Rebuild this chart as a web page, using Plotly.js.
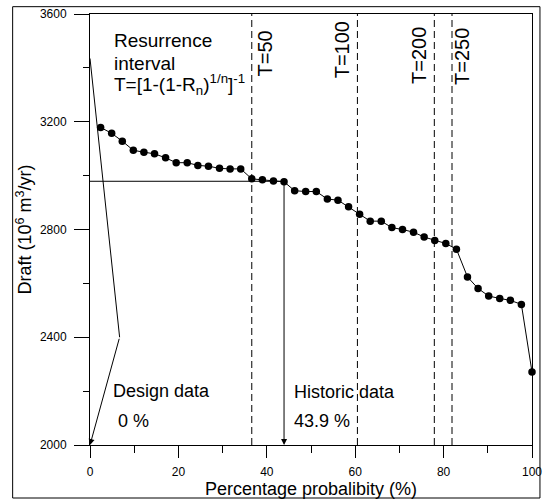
<!DOCTYPE html>
<html>
<head>
<meta charset="utf-8">
<script src="https://cdn.plot.ly/plotly-3.0.1.min.js"></script>
<style>html,body{margin:0;padding:0;background:#fff;}</style>
</head>
<body>
<div id="chart" style="width:545px;height:499px;"></div>
<script>
// Percentage probability (%) of each ranked draft value
const probability = [2.4, 4.9, 7.3, 9.8, 12.2, 14.6, 17.1, 19.5, 22.0, 24.4, 26.8, 29.3, 31.7, 34.1,
  36.6, 39.0, 41.5, 43.9, 46.3, 48.8, 51.2, 53.7, 56.1, 58.5, 61.0, 63.4, 65.9, 68.3, 70.7, 73.2,
  75.6, 78.0, 80.5, 82.9, 85.4, 87.8, 90.2, 92.7, 95.1, 97.6, 100];
// Draft (10^6 m3/yr)
const draft = [3179, 3157, 3128, 3094, 3087, 3081, 3066, 3048, 3048, 3038, 3035, 3027, 3025, 3025,
  2988, 2985, 2980, 2977, 2944, 2941, 2941, 2913, 2909, 2884, 2857, 2831, 2831, 2807, 2800, 2790,
  2772, 2759, 2748, 2727, 2624, 2581, 2553, 2544, 2537, 2522, 2271];
// Return-period lines
const periodLabels = ['T=50', 'T=100', 'T=200', 'T=250'];
const periodX = [36.6, 60.5, 77.9, 81.9];
// Design data path (x = %, y = draft)
const designX = [0, 6.7, 0];
const designY = [3435, 2400, 2000];
// Historic data
const historicDraft = 2979;
const historicProb = 43.9;
const designProb = 0;

const yMin = 2000, yMax = 3600;
const xTicks = [0, 20, 40, 60, 80, 100];
const yTicks = [2000, 2400, 2800, 3200, 3600];

const FONT = 'Liberation Sans, Arial, Helvetica, sans-serif';

const traces = [];
// dashed return-period lines
periodX.forEach(function (px) {
  traces.push({
    x: [px, px], y: [yMin, yMax], mode: 'lines', type: 'scatter',
    line: {color: '#000', width: 1, dash: '7px,4px'}, hoverinfo: 'skip', showlegend: false
  });
});
// historic horizontal line
traces.push({
  x: [0, historicProb], y: [historicDraft, historicDraft], mode: 'lines', type: 'scatter',
  line: {color: '#000', width: 1}, showlegend: false
});
// design first segment
traces.push({
  x: designX.slice(0, 2), y: designY.slice(0, 2), mode: 'lines', type: 'scatter',
  line: {color: '#000', width: 1}, showlegend: false
});
// main data
traces.push({
  x: probability, y: draft, mode: 'lines+markers', type: 'scatter',
  line: {color: '#000', width: 1}, marker: {color: '#000', size: 7.5},
  cliponaxis: false, showlegend: false
});

function tx(px) { return (px - 90) / 4.42; }
function ty(py) { return 2000 + (445 - py) / 0.26937; }

const annFont = {family: FONT, size: 18, color: '#000'};
const bigFont = {family: FONT, size: 19, color: '#000'};
const annotations = [
  {x: tx(112), y: ty(41), xref: 'x', yref: 'y', text: 'Resurrence', showarrow: false,
   xanchor: 'left', yanchor: 'middle', font: bigFont},
  {x: tx(112), y: ty(64), xref: 'x', yref: 'y', text: 'interval', showarrow: false,
   xanchor: 'left', yanchor: 'middle', font: bigFont},
  {x: tx(112), y: ty(85), xref: 'x', yref: 'y',
   text: 'T=[1-(1-R<sub>n</sub>)<sup>1/n</sup>]<sup>-1</sup>', showarrow: false,
   xanchor: 'left', yanchor: 'middle', font: bigFont},
  {x: tx(111), y: ty(391), xref: 'x', yref: 'y', text: 'Design data', showarrow: false,
   xanchor: 'left', yanchor: 'middle', font: annFont},
  {x: tx(116), y: ty(421), xref: 'x', yref: 'y', text: designProb + ' %', showarrow: false,
   xanchor: 'left', yanchor: 'middle', font: annFont},
  {x: tx(292), y: ty(392), xref: 'x', yref: 'y', text: 'Historic data', showarrow: false,
   xanchor: 'left', yanchor: 'middle', font: annFont},
  {x: tx(292), y: ty(421), xref: 'x', yref: 'y', text: historicProb + ' %', showarrow: false,
   xanchor: 'left', yanchor: 'middle', font: annFont},
  // arrows
  {x: designX[2], y: designY[2], ax: designX[1], ay: designY[1], xref: 'x', yref: 'y',
   axref: 'x', ayref: 'y', text: '', showarrow: true, arrowhead: 2, arrowsize: 1.2,
   arrowwidth: 1, arrowcolor: '#000'},
  {x: historicProb, y: yMin, ax: historicProb, ay: historicDraft, xref: 'x', yref: 'y',
   axref: 'x', ayref: 'y', text: '', showarrow: true, arrowhead: 2, arrowsize: 1.2,
   arrowwidth: 1, arrowcolor: '#000'}
];
const periodLabelPos = [[264.5, 54], [342.3, 50], [419, 56], [462, 57]];
periodLabels.forEach(function (lab, i) {
  annotations.push({
    x: tx(periodLabelPos[i][0]), y: ty(periodLabelPos[i][1]), xref: 'x', yref: 'y',
    text: lab, textangle: -90, showarrow: false, xanchor: 'center', yanchor: 'middle',
    font: {family: FONT, size: 20, color: '#000'}
  });
});

const layout = {
  width: 545, height: 499,
  margin: {l: 90, r: 13, t: 14, b: 54, pad: 0},
  paper_bgcolor: '#fff', plot_bgcolor: '#fff',
  font: {family: FONT, color: '#000', size: 12},
  showlegend: false,
  xaxis: {
    range: [0, 100], tickvals: xTicks, ticktext: xTicks.map(String),
    ticks: 'outside', ticklen: 12, tickwidth: 1, tickcolor: '#000',
    showline: true, linecolor: '#000', linewidth: 1, mirror: true,
    showgrid: false, zeroline: false, automargin: false,
    tickfont: {family: FONT, size: 12, color: '#000'}, ticklabelstandoff: 4,
    minor: {dtick: 10, tick0: 0, ticks: 'outside', ticklen: 7, tickwidth: 1, tickcolor: '#000', showgrid: false},
    title: {text: 'Percentage probalibity (%)', font: {family: FONT, size: 18, color: '#000'}, standoff: 3}
  },
  yaxis: {
    range: [yMin, yMax], tickvals: yTicks, ticktext: yTicks.map(String),
    ticks: 'outside', ticklen: 15, tickwidth: 1, tickcolor: '#000',
    showline: true, linecolor: '#000', linewidth: 1, mirror: true,
    showgrid: false, zeroline: false, automargin: false,
    tickfont: {family: FONT, size: 12, color: '#000'}, ticklabelstandoff: 5,
    minor: {dtick: 200, tick0: 2000, ticks: 'outside', ticklen: 6, tickwidth: 1, tickcolor: '#000', showgrid: false},
    title: {text: 'Draft (10<sup>6</sup> m<sup>3</sup>/yr)', font: {family: FONT, size: 18, color: '#000'}, standoff: 3}
  },
  shapes: [
    {type: 'rect', xref: 'paper', yref: 'paper', x0: -0.175, x1: 1.018, y0: -0.123, y1: 1.017,
     line: {color: '#000', width: 1}, fillcolor: 'rgba(0,0,0,0)', layer: 'above'}
  ],
  annotations: annotations
};

Plotly.newPlot('chart', traces, layout, {displayModeBar: false, staticPlot: true});
</script>
</body>
</html>
